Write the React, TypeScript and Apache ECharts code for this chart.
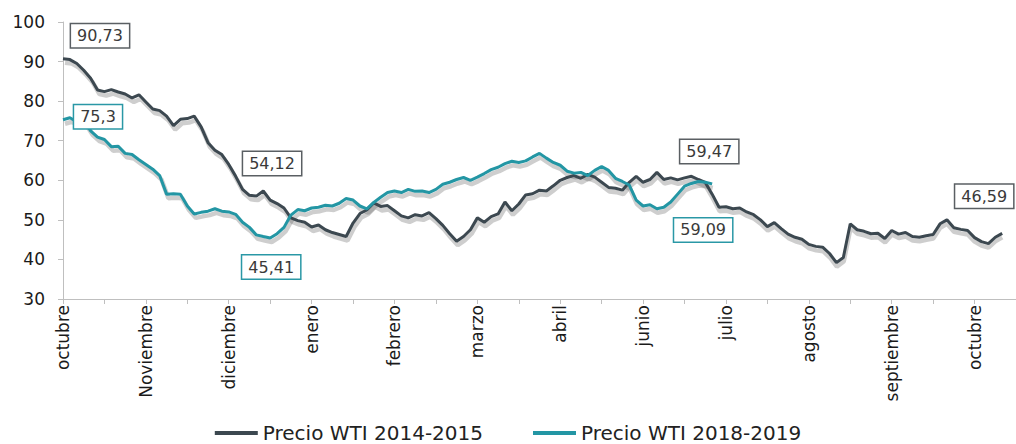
import React, { useEffect, useRef } from "react";
import * as echarts from "echarts";

const months = ["octubre", "Noviembre", "diciembre", "enero", "febrero", "marzo", "abril", "junio", "julio", "agosto", "septiembre", "octubre"];
const yTicks = [30, 40, 50, 60, 70, 80, 90, 100];
const seriesNames = ["Precio WTI 2014-2015", "Precio WTI 2018-2019"];

const wti2014 = [
  90.73, 90.5, 89.5, 87.8, 85.8, 82.8, 82.4, 82.9, 82.3, 81.8,
  80.8, 81.6, 79.8, 78.0, 77.6, 76.2, 73.8, 75.4, 75.6, 76.2,
  73.5, 69.5, 67.6, 66.5, 64.0, 61.0, 57.7, 56.2, 56.0, 57.3,
  55.0, 54.12, 53.0, 50.5, 49.8, 49.4, 48.2, 48.7, 47.5, 46.8,
  46.3, 45.8, 49.2, 51.6, 52.5, 54.3, 53.4, 53.6, 52.3, 51.0,
  50.5, 51.3, 51.0, 51.8, 50.3, 48.6, 46.5, 44.6, 45.8, 47.5,
  50.5, 49.4, 50.8, 51.5, 54.5, 52.3, 54.0, 56.3, 56.6, 57.5,
  57.3, 58.6, 60.0, 60.7, 61.2, 60.5, 61.5, 60.8, 59.5, 58.2,
  58.0, 57.5, 59.5, 61.0, 59.5, 60.2, 62.0, 60.2, 60.6, 60.1,
  60.6, 61.0, 60.2, 59.47, 56.5, 53.2, 53.3, 52.8, 53.0, 52.0,
  51.3, 50.0, 48.3, 49.3, 47.8, 46.4, 45.6, 45.1, 43.8, 43.3,
  43.1, 41.5, 39.2, 40.5, 49.0, 47.5, 47.1, 46.5, 46.6, 45.3,
  47.3, 46.4, 46.8, 45.8, 45.6, 46.0, 46.3, 49.0, 50.0, 48.0,
  47.6, 47.3, 45.5, 44.5, 44.0, 45.6, 46.59,
];

const wti2018 = [
  75.3, 75.8, 74.8, 75.2, 72.5, 70.9, 70.3, 68.5, 68.6, 66.8,
  66.5, 65.2, 64.0, 62.8, 61.2, 56.5, 56.6, 56.5, 53.5, 51.5,
  51.9, 52.2, 52.8, 52.2, 52.0, 51.4, 49.4, 48.1, 46.2, 45.8,
  45.41, 46.5, 48.1, 51.2, 52.6, 52.3, 53.0, 53.2, 53.7, 53.5,
  54.2, 55.4, 55.0, 53.5, 52.8, 54.4, 55.7, 56.9, 57.3, 56.9,
  57.7, 57.2, 57.3, 56.9, 57.7, 59.0, 59.5, 60.2, 60.7, 60.0,
  60.8, 61.7, 62.7, 63.3, 64.2, 64.8, 64.5, 64.9, 65.9, 66.8,
  65.6, 64.5, 63.8, 62.3, 61.8, 62.0, 61.2, 62.5, 63.5, 62.5,
  60.5, 59.7, 58.8, 55.0, 53.5, 53.8, 52.8, 53.2, 54.5, 56.5,
  58.5, 59.2, 59.7, 59.5, 59.09,
];

// annotated points (series index, data index) and label box offsets
const annotations = [
  { s: 0, i: 0, dx: 37, dy: -23 },
  { s: 1, i: 0, dx: 35, dy: -3 },
  { s: 0, i: 31, dx: -5, dy: -40 },
  { s: 1, i: 30, dx: 1, dy: 29 },
  { s: 0, i: 93, dx: 4, dy: -31 },
  { s: 1, i: 94, dx: -9, dy: 46 },
  { s: 0, i: 136, dx: -18, dy: -37 },
];

const COLORS = ["#3c4850", "#2396a4"];
const BORDERS = ["#5a5f63", "#2a98a6"];
const FONT = "DejaVu Sans";
const STEP_PER_MONTH = 12;

function buildData(values: number[], s: number) {
  return values.map((v, i) => {
    const a = annotations.find((x) => x.s === s && x.i === i);
    if (!a) return [i, v];
    return {
      value: [i, v],
      symbol: "circle",
      symbolSize: 0,
      label: {
        show: true,
        position: "inside",
        offset: [a.dx, a.dy],
        formatter: (p: any) => String(p.value[1]).replace(".", ","),
        backgroundColor: "#ffffff",
        borderColor: BORDERS[s],
        borderWidth: 1.5,
        padding: [4, 6, 3, 6],
        fontSize: 16,
        fontFamily: FONT,
        color: "#3a3a3a",
      },
    };
  });
}

export default function App() {
  const ref = useRef<HTMLDivElement>(null);
  useEffect(() => {
    if (!ref.current) return;
    const chart = echarts.init(ref.current, undefined, { renderer: "svg" });
    const gridBase = { height: 277, width: 965 };
    const xBase = { type: "value", min: 0, max: 138, interval: 6 };
    const yBase = { type: "value", min: yTicks[0], max: yTicks[yTicks.length - 1], interval: 10 };
    const shadowSeries = (values: number[]) => ({
      type: "line",
      xAxisIndex: 1,
      yAxisIndex: 1,
      data: values.map((v, i) => [i, v]),
      symbol: "none",
      silent: true,
      z: 1,
      lineStyle: { width: 4.5, color: "rgba(80,80,80,0.28)" },
      emphasis: { disabled: true },
    });
    chart.setOption({
      animation: false,
      textStyle: { fontFamily: FONT },
      grid: [
        { left: 63, top: 22, ...gridBase },
        { left: 65, top: 26, ...gridBase },
      ],
      legend: {
        data: seriesNames,
        left: "center",
        top: 423,
        padding: 0,
        icon: "rect",
        itemWidth: 43,
        itemHeight: 4,
        itemGap: 50,
        textStyle: { fontSize: 20, color: "#222", fontFamily: FONT },
      },
      xAxis: [
        {
          ...xBase,
          gridIndex: 0,
          axisLine: { show: true, lineStyle: { color: "#bfbfbf", width: 1 } },
          axisTick: { show: true, length: 5, lineStyle: { color: "#bfbfbf" } },
          splitLine: { show: false },
          axisLabel: {
            rotate: 90,
            margin: 6,
            fontSize: 17,
            color: "#1a1a1a",
            fontFamily: FONT,
            formatter: (v: number) => (v % STEP_PER_MONTH === 0 && months[v / STEP_PER_MONTH] ? months[v / STEP_PER_MONTH] : ""),
          },
        },
        { ...xBase, gridIndex: 1, show: false },
      ],
      yAxis: [
        {
          ...yBase,
          gridIndex: 0,
          axisLine: { show: true, lineStyle: { color: "#bfbfbf", width: 1 } },
          axisTick: { show: true, length: 5, lineStyle: { color: "#bfbfbf" } },
          splitLine: { show: false },
          axisLabel: { fontSize: 17, color: "#1a1a1a", margin: 18, fontFamily: FONT },
        },
        { ...yBase, gridIndex: 1, show: false },
      ],
      series: [
        shadowSeries(wti2014),
        shadowSeries(wti2018),
        {
          name: seriesNames[0],
          type: "line",
          data: buildData(wti2014, 0),
          symbol: "none",
          showSymbol: true,
          z: 3,
          color: COLORS[0],
          lineStyle: { width: 3, color: COLORS[0] },
          emphasis: { disabled: true },
        },
        {
          name: seriesNames[1],
          type: "line",
          data: buildData(wti2018, 1),
          symbol: "none",
          showSymbol: true,
          z: 3,
          color: COLORS[1],
          lineStyle: { width: 3, color: COLORS[1] },
          emphasis: { disabled: true },
        },
      ],
    });
    return () => chart.dispose();
  }, []);
  return (
    <div
      ref={ref}
      style={{ position: "fixed", left: 0, top: 0, width: 1016, height: 444, overflow: "hidden", background: "#fff" }}
    />
  );
}
